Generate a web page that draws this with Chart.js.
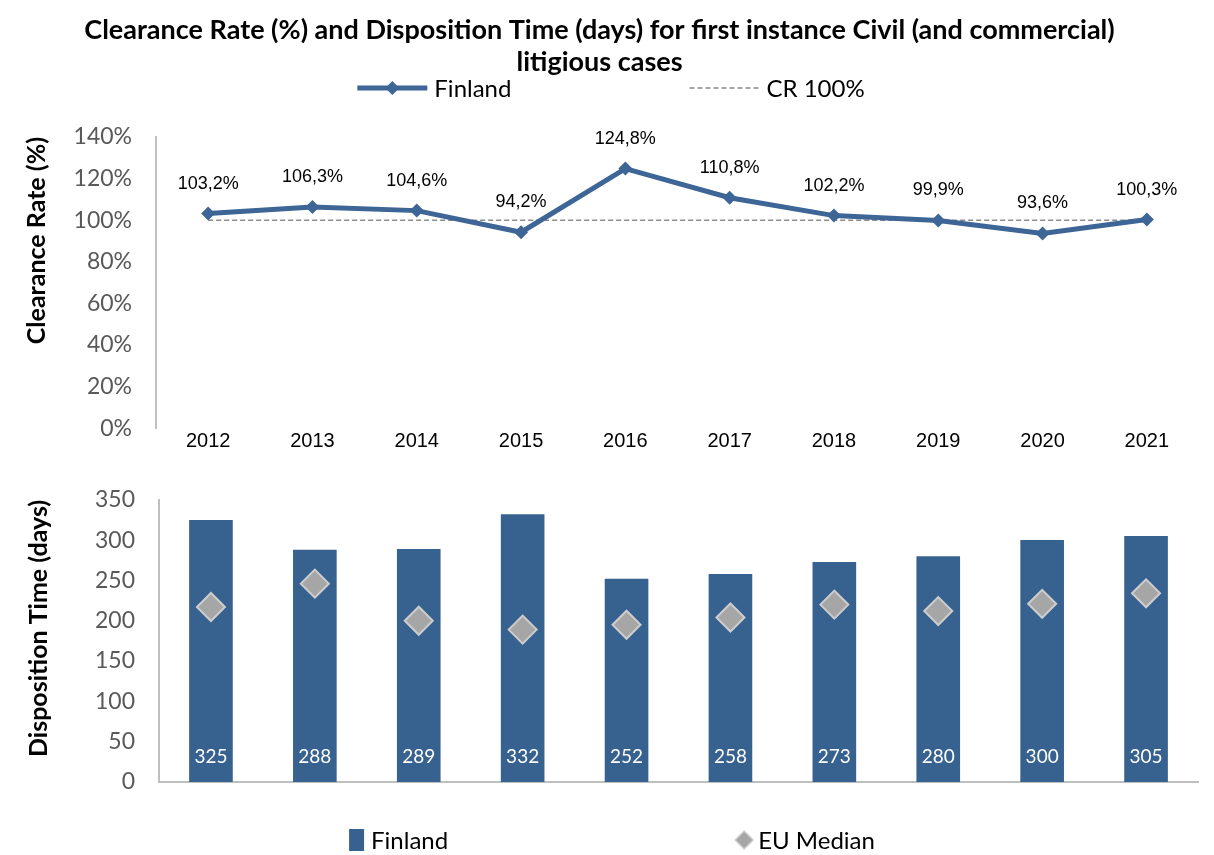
<!DOCTYPE html>
<html>
<head>
<meta charset="utf-8">
<script src="https://cdn.jsdelivr.net/npm/chart.js@4.4.1/dist/chart.umd.min.js"></script>
<style>
  html, body { margin: 0; padding: 0; background: #fff; }
  #wrap { position: relative; width: 1214px; height: 855px; }
  #top-box { position: absolute; left: 0; top: 0; }
  #bottom-box { position: absolute; left: 0; top: 462px; }
</style>
</head>
<body>
<div id="wrap">
  <div id="top-box"><canvas id="grafico-cr" width="1214" height="466"></canvas></div>
  <div id="bottom-box"><canvas id="grafico-dt" width="1214" height="393"></canvas></div>
</div>
<script>
const years = ['2012', '2013', '2014', '2015', '2016', '2017', '2018', '2019', '2020', '2021'];
const clearanceRate = [103.2, 106.3, 104.6, 94.2, 124.8, 110.8, 102.2, 99.9, 93.6, 100.3];
const crReference = [100, 100, 100, 100, 100, 100, 100, 100, 100, 100];
const dispositionTime = [325, 288, 289, 332, 252, 258, 273, 280, 300, 305];
const euMedian = [217, 246, 200, 189, 195, 204, 220, 212, 221, 234];
const crTickValues = [0, 20, 40, 60, 80, 100, 120, 140];
const dtTickValues = [0, 50, 100, 150, 200, 250, 300, 350];

const BLUE_LINE = '#3D6696';
const BLUE_BAR = '#37618F';
const GREY_TXT = '#595959';
const AXIS_GREY = '#BFBFBF';

// labels above points / inside bars
const valueLabels = {
  id: 'valueLabels',
  afterDatasetsDraw(chart, args, opts) {
    const ctx = chart.ctx;
    const meta = chart.getDatasetMeta(opts.datasetIndex);
    const values = chart.data.datasets[opts.datasetIndex].data;
    ctx.save();
    ctx.font = opts.font;
    ctx.fillStyle = opts.color;
    ctx.textAlign = 'center';
    ctx.textBaseline = 'middle';
    meta.data.forEach((el, i) => {
      const y = opts.atBase ? chart.chartArea.bottom - opts.offset : el.y - opts.offset;
      ctx.fillText(opts.format(values[i]), el.x, y);
    });
    ctx.restore();
  },
};

function drawIcon(ctx, kind, x, y, w, ds) {
  ctx.save();
  if (kind === 'lineDiamond') {
    ctx.strokeStyle = ds.borderColor;
    ctx.lineWidth = 5;
    ctx.beginPath();
    ctx.moveTo(x, y);
    ctx.lineTo(x + w, y);
    ctx.stroke();
    ctx.fillStyle = ds.borderColor;
    Chart.helpers.drawPoint(ctx, { pointStyle: 'rectRot', radius: 7, borderWidth: 0 }, x + w / 2, y);
  } else if (kind === 'dashed') {
    ctx.strokeStyle = ds.borderColor;
    ctx.lineWidth = 1.5;
    ctx.setLineDash(ds.borderDash);
    ctx.beginPath();
    ctx.moveTo(x, y);
    ctx.lineTo(x + w, y);
    ctx.stroke();
  } else if (kind === 'box') {
    ctx.fillStyle = ds.backgroundColor;
    ctx.fillRect(x, y - 11, 15, 22);
  } else if (kind === 'diamond') {
    ctx.fillStyle = ds.pointBackgroundColor;
    ctx.strokeStyle = ds.pointBorderColor;
    ctx.lineWidth = 1.5;
    Chart.helpers.drawPoint(ctx, { pointStyle: 'rectRot', radius: 9, borderWidth: 1.5 }, x + w / 2, y);
  }
  ctx.restore();
}

const customLegend = {
  id: 'customLegend',
  afterDraw(chart, args, opts) {
    const ctx = chart.ctx;
    ctx.save();
    ctx.font = opts.font;
    ctx.textBaseline = 'middle';
    const widths = opts.items.map(
      (it) => opts.iconWidth + opts.textGap + ctx.measureText(chart.data.datasets[it.datasetIndex].label).width
    );
    const total = widths.reduce((a, b) => a + b, 0) + opts.itemGap * (widths.length - 1);
    let x = opts.centerX - total / 2;
    opts.items.forEach((it, i) => {
      const ds = chart.data.datasets[it.datasetIndex];
      drawIcon(ctx, it.icon, x, opts.y, opts.iconWidth, ds);
      ctx.fillStyle = '#000';
      ctx.fillText(ds.label, x + opts.iconWidth + opts.textGap, opts.y + 1);
      x += widths[i] + opts.itemGap;
    });
    ctx.restore();
  },
};

const formatPct = (v) => v.toFixed(1).replace('.', ',') + '%';

new Chart(document.getElementById('grafico-cr'), {
  type: 'line',
  data: {
    labels: years,
    datasets: [
      {
        label: 'Finland',
        data: clearanceRate,
        borderColor: BLUE_LINE,
        backgroundColor: BLUE_LINE,
        borderWidth: 5,
        pointStyle: 'rectRot',
        pointRadius: 7,
        pointBackgroundColor: BLUE_LINE,
        pointBorderWidth: 0,
        tension: 0,
      },
      {
        label: 'CR 100%',
        data: crReference,
        borderColor: '#8C8C8C',
        borderWidth: 1.5,
        borderDash: [5, 3],
        pointRadius: 0,
        tension: 0,
      },
    ],
  },
  options: {
    responsive: false,
    animation: false,
    layout: { padding: { left: 0, right: 15, top: 0, bottom: 4 } },
    plugins: {
      legend: { display: false },
      tooltip: { enabled: false },
      title: {
        display: true,
        text: [
          'Clearance Rate (%) and Disposition Time (days) for first instance Civil (and commercial)',
          'litigious cases',
        ],
        color: '#000',
        font: { family: 'Lato', size: 27, weight: 'bold', lineHeight: 1.185 },
        padding: { top: 14, bottom: 59 },
      },
      valueLabels: {
        datasetIndex: 0,
        offset: 30,
        font: '18px "Liberation Sans", Arial, sans-serif',
        color: '#000',
        format: formatPct,
      },
      customLegend: {
        items: [
          { datasetIndex: 0, icon: 'lineDiamond' },
          { datasetIndex: 1, icon: 'dashed' },
        ],
        font: '24px Lato, sans-serif',
        iconWidth: 70,
        textGap: 7,
        itemGap: 178,
        centerX: 611,
        y: 88,
      },
    },
    scales: {
      x: {
        offset: true,
        grid: { display: false, drawTicks: false },
        border: { display: false },
        ticks: {
          padding: 1,
          color: '#000',
          font: { family: '"Liberation Sans", Arial, sans-serif', size: 20 },
        },
      },
      y: {
        min: 0,
        max: 140,
        afterBuildTicks: (scale) => {
          scale.ticks = crTickValues.map((v) => ({ value: v }));
        },
        afterFit: (scale) => {
          scale.width = 156;
        },
        grid: { display: false, drawTicks: false },
        border: { display: true, color: AXIS_GREY, width: 2 },
        ticks: {
          padding: 24,
          color: GREY_TXT,
          font: { family: 'Lato', size: 23 },
          callback: (value) => value + '%',
        },
        title: {
          display: true,
          text: 'Clearance Rate (%)',
          align: 'end',
          color: '#000',
          font: { family: 'Lato', size: 25, weight: 'bold' },
          padding: { top: 22, bottom: 0 },
        },
      },
    },
  },
  plugins: [valueLabels, customLegend],
});

new Chart(document.getElementById('grafico-dt'), {
  type: 'bar',
  data: {
    labels: years,
    datasets: [
      {
        type: 'bar',
        label: 'Finland',
        data: dispositionTime,
        backgroundColor: BLUE_BAR,
        borderWidth: 0,
        categoryPercentage: 1,
        barPercentage: 0.42,
        order: 2,
      },
      {
        type: 'line',
        label: 'EU Median',
        data: euMedian,
        showLine: false,
        pointStyle: 'rectRot',
        pointRadius: 14,
        pointBackgroundColor: '#A6A6A6',
        pointBorderColor: '#CDCDCD',
        pointBorderWidth: 2,
        order: 1,
      },
    ],
  },
  options: {
    responsive: false,
    animation: false,
    layout: { padding: { left: 0, right: 14, top: 30, bottom: 73 } },
    plugins: {
      legend: { display: false },
      tooltip: { enabled: false },
      valueLabels: {
        datasetIndex: 0,
        atBase: true,
        offset: 25,
        font: '19px Lato, sans-serif',
        color: '#fff',
        format: (v) => String(v),
      },
      customLegend: {
        items: [
          { datasetIndex: 0, icon: 'box' },
          { datasetIndex: 1, icon: 'diamond' },
        ],
        font: '24px Lato, sans-serif',
        iconWidth: 16,
        textGap: 6,
        itemGap: 288,
        centerX: 612,
        y: 378,
      },
    },
    scales: {
      x: {
        grid: { display: false, drawTicks: false },
        border: { display: true, color: AXIS_GREY, width: 2 },
        ticks: { display: false },
      },
      y: {
        min: 0,
        max: 350,
        afterBuildTicks: (scale) => {
          scale.ticks = dtTickValues.map((v) => ({ value: v }));
        },
        afterFit: (scale) => {
          scale.width = 159;
        },
        grid: { display: false, drawTicks: false },
        border: { display: true, color: AXIS_GREY, width: 2 },
        ticks: {
          padding: 24,
          color: GREY_TXT,
          font: { family: 'Lato', size: 23 },
        },
        title: {
          display: true,
          text: 'Disposition Time (days)',
          align: 'end',
          color: '#000',
          font: { family: 'Lato', size: 25, weight: 'bold' },
          padding: { top: 24, bottom: 0 },
        },
      },
    },
  },
  plugins: [valueLabels, customLegend],
});
</script>
</body>
</html>
